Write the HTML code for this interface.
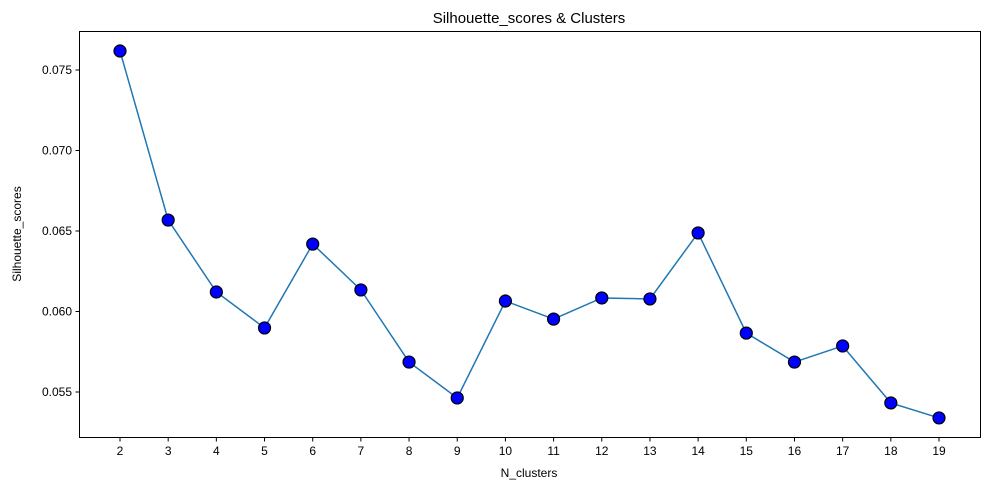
<!DOCTYPE html>
<html><head><meta charset="utf-8"><style>
body{margin:0;background:#fff;}
svg{font-family:"Liberation Sans","DejaVu Sans",sans-serif;}
</style></head><body>
<svg id="chart" width="989" height="490">
<text x="529" y="23" text-anchor="middle" font-size="15">Silhouette_scores &amp; Clusters</text>
<text x="529" y="477" text-anchor="middle" font-size="12">N_clusters</text>
<text transform="translate(21,234) rotate(-90)" text-anchor="middle" font-size="12">Silhouette_scores</text>
<g id="axes"></g>
<g id="marks"></g>
<rect x="79.5" y="31.5" width="901" height="406" fill="none" stroke="#000" stroke-width="1"/>
</svg>
<script>
const categories=[2,3,4,5,6,7,8,9,10,11,12,13,14,15,16,17,18,19];
const scores=[0.07618,0.06568,0.06121,0.05898,0.06419,0.06134,0.05686,0.05463,0.06065,0.05953,0.06084,0.06078,0.06488,0.05866,0.05686,0.05786,0.05432,0.05339];
const yTicks=[0.055,0.060,0.065,0.070,0.075];
const yTickLabels=["0.055","0.060","0.065","0.070","0.075"];
const NS="http://www.w3.org/2000/svg";
function xs(c){return 120+(c-2)*(939-120)/17;}
function ys(v){return 70+(0.075-v)/0.005*80.5;}
const axes=document.getElementById('axes'),marks=document.getElementById('marks');
function mk(t,a,p){const e=document.createElementNS(NS,t);for(const k in a)e.setAttribute(k,a[k]);p.appendChild(e);return e;}
categories.forEach(c=>{
 const x=xs(c);
 const l=mk('line',{x1:x,x2:x,y1:437.5,y2:441.5,stroke:'#000'},axes);
 
 
 const t=mk('text',{x:x,y:455,'text-anchor':'middle','font-size':12},axes);t.textContent=c;
 
 
});
yTicks.forEach((v,i)=>{
 const y=ys(v);
 const l=mk('line',{x1:75.5,x2:79.5,y1:y,y2:y,stroke:'#000'},axes);
 
 
 const t=mk('text',{x:72,y:y+4,'text-anchor':'end','font-size':12},axes);t.textContent=yTickLabels[i];
 
 
});
const pts=categories.map((c,i)=>xs(c)+','+ys(scores[i])).join(' ');
const pl=mk('polyline',{points:pts,fill:'none',stroke:'#1f77b4','stroke-width':1.5},marks);


categories.forEach((c,i)=>{
 const p=mk('circle',{cx:xs(c),cy:ys(scores[i]),r:6,fill:'#0000ff',stroke:'#000','stroke-width':1.2},marks);
 
 
});
</script>
</body></html>
